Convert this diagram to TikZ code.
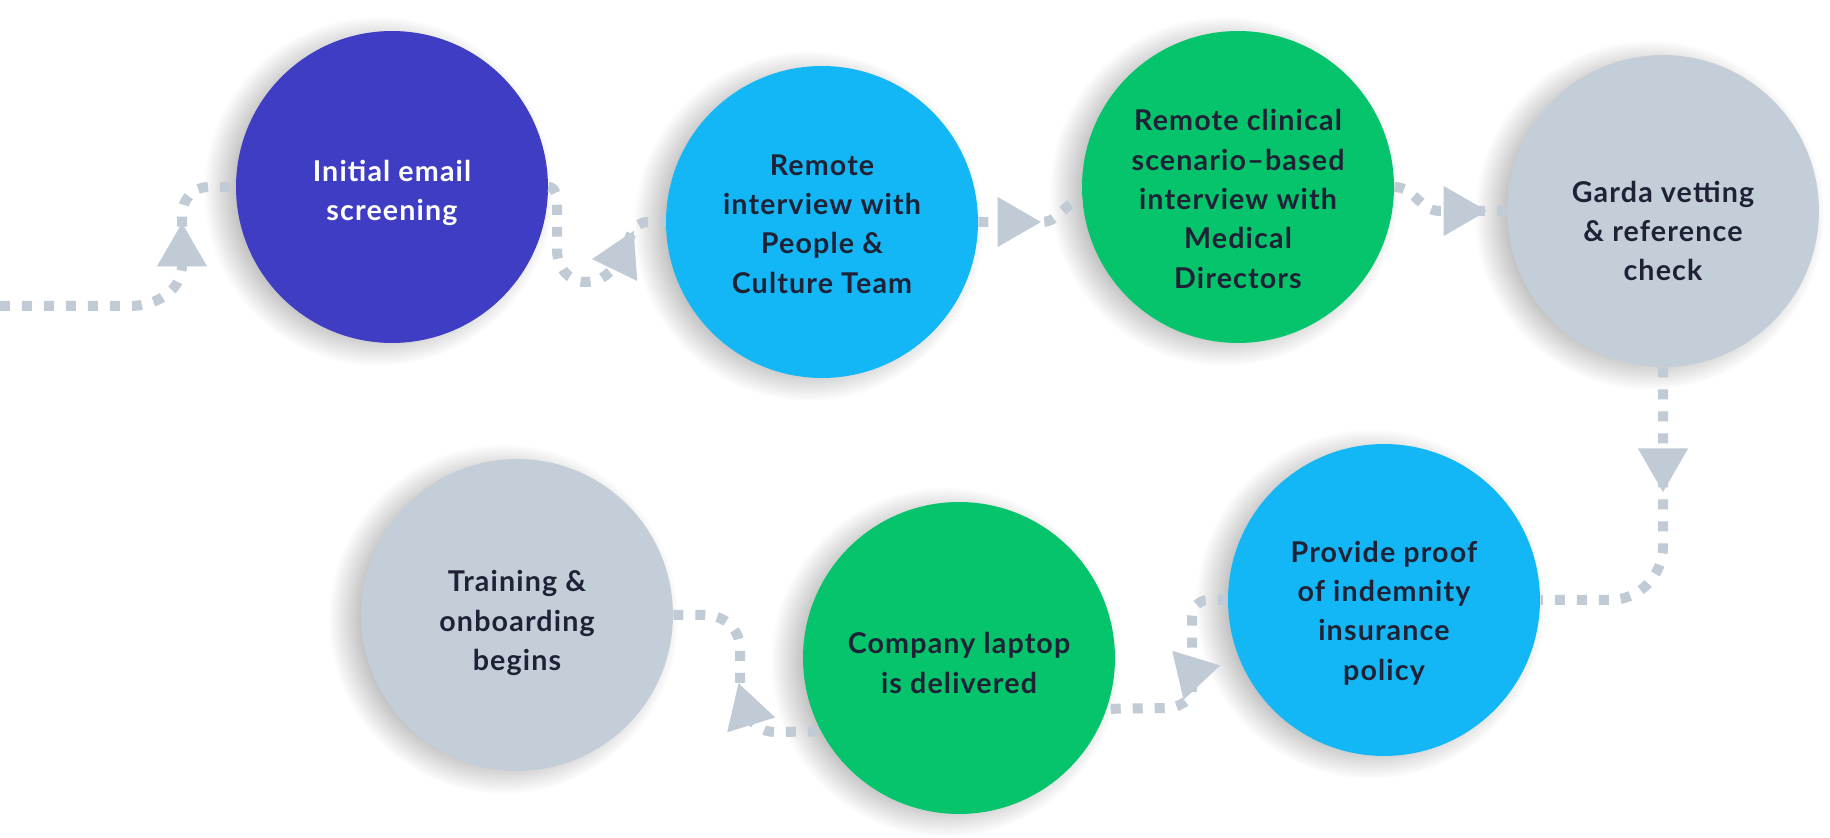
\documentclass[tikz,border=0pt]{standalone}
\usepackage{fontspec}
\setmainfont{Lato}[LetterSpace=4]
\usepackage{xcolor}
\definecolor{textDark}{HTML}{1F2236}
\definecolor{indigoColor}{HTML}{3F3DC3}
\definecolor{skyColor}{HTML}{14B7F5}
\definecolor{greenColor}{HTML}{05C46B}
\definecolor{greyColor}{HTML}{C4CED8}
\definecolor{dotColor}{HTML}{C0CBD6}
\usepackage{tikz}
\usetikzlibrary{shapes.geometric,shadows}
\tikzset{
  stepCircle/.style={
    circle,
    minimum size=6.24cm,
    inner sep=0pt,
    circular drop shadow={shadow xshift=-7pt, shadow yshift=-2pt, shadow scale=1.12, fill=black, opacity=0.25, path fading={circle with fuzzy edge 20 percent}}
 },
  stepText/.style={
    align=center,
    text=textDark,
    font=\fontsize{16.3}{22.4}\selectfont\bfseries
 },
  dotLine/.style={
    line width=0.2cm,
    dash pattern=on 0.2cm off 0.24cm,
    color=dotColor
 },
  arrowTri/.style={
    regular polygon,
    regular polygon sides=3,
    fill=dotColor,
    minimum size=1.16cm,
    inner sep=0pt
 }
}
\begin{document}
\begin{tikzpicture}[x=0.02cm, y=0.02cm]
            \fill[white] (0,0) rectangle (1830,838);
            \useasboundingbox (0,0) rectangle (1830,838);

            % top row
            \node[stepCircle, fill=indigoColor] (email) at (392,651) {};
            \node[stepCircle, fill=skyColor] (people) at (822,616) {};
            \node[stepCircle, fill=greenColor] (clinical) at (1238,651) {};
            \node[stepCircle, fill=greyColor] (garda) at (1663,627) {};

            % bottom row
            \node[stepCircle, fill=skyColor] (proof) at (1384,238) {};
            \node[stepCircle, fill=greenColor] (laptop) at (959,180) {};
            \node[stepCircle, fill=greyColor] (training) at (517,223) {};

            % texts
            \node[stepText, text=white] (emailText) at ([yshift=-6*0.02cm]email) {Initial email\\screening};
            \node[stepText] (peopleText) at ([yshift=-2*0.02cm]people) {Remote\\interview with\\People \&\\Culture Team};
            \node[stepText] (clinicalText) at ([yshift=-12*0.02cm]clinical) {Remote clinical\\scenario–based\\interview with\\Medical\\Directors};
            \node[stepText] (gardaText) at ([yshift=-20*0.02cm]garda) {Garda vetting\\\& reference\\check};
            \node[stepText] (proofText) at ([yshift=-13*0.02cm]proof) {Provide proof\\of indemnity\\insurance\\policy};
            \node[stepText] (laptopText) at ([yshift=-5*0.02cm]laptop) {Company laptop\\is delivered};
            \node[stepText] (trainingText) at ([yshift=-8*0.02cm]training) {Training \&\\onboarding\\begins};

            % lead-in from the left
            \coordinate (start) at (0,532);
            \draw[dotLine] (start) -- (130,532) to[out=0,in=-90] (182,573) -- (182,586) node[arrowTri] (tri0) {} -- (182,623) to[out=90,in=180] (208,651) -- (email.west);

            % dotted links
            \draw[dotLine] (email.east) to[out=0,in=90] (557,633) -- (557,588) to[out=-90,in=180] (585,556) to[out=0,in=-120] (621,581) node[arrowTri, shape border rotate=-26] (tri1) {} to[out=60,in=180] (648,616) -- (people.west);
            \draw[dotLine] (people.east) -- (1012,616) node[arrowTri, shape border rotate=-90] (tri2) {} -- (1042,616) to[out=0,in=180] (clinical.185);
            \draw[dotLine] (clinical.east) to[out=0,in=180] (1440,627) -- (1458,627) node[arrowTri, shape border rotate=-90] (tri3) {} -- (garda.west);
            \draw[dotLine] (garda.south) -- (1663,375) node[arrowTri, shape border rotate=180] (tri4) {} -- (1663,292) to[out=-90,in=0] (1610,238) -- (proof.east);
            \draw[dotLine] (proof.west) -- (1208,238) to[out=180,in=90] (1192,220) -- (1192,166) node[arrowTri, shape border rotate=-77] (tri5) {} -- (1192,150) to[out=-90,in=0] (1165,130) -- (laptop.-19);
            \draw[dotLine] (training.east) -- (705,223) to[out=0,in=90] (740,190) -- (740,150) to[out=-90,in=107] (747,127) node[arrowTri, shape border rotate=17] (tri6) {} to[out=-73,in=180] (775,106) -- (laptop.208);
        \end{tikzpicture}
\end{document}
